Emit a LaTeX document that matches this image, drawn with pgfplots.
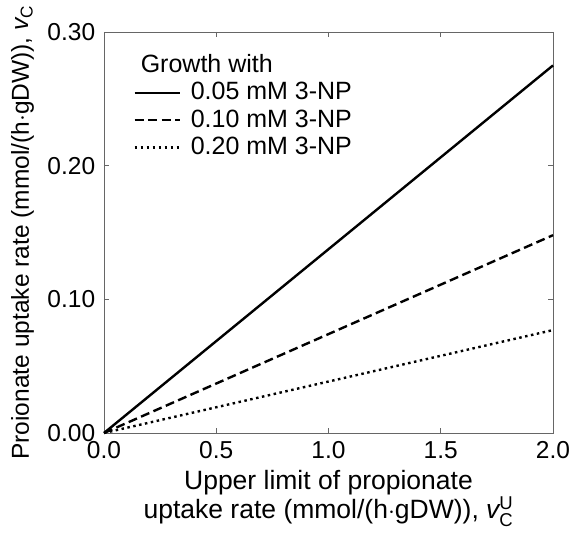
\documentclass[border=0pt]{standalone}
\usepackage{amsmath}
\usepackage{pgfplots}
\pgfplotsset{compat=1.18}
\usepackage{fontspec}
\setmainfont{Liberation Sans}
\begin{document}
\fontsize{26}{30}\selectfont
\begin{tikzpicture}
\useasboundingbox (-104pt,-100pt) rectangle (470pt,433pt);
\begin{axis}[
  at={(0pt,0pt)}, anchor=south west,
  scale only axis, width=449pt, height=401pt,
  xmin=0, xmax=2, ymin=0, ymax=0.3,
  xtick={0,0.5,1,1.5,2}, ytick={0,0.1,0.2,0.3},
  tick align=inside, tick pos=both,
  major tick length=5pt,
  axis line style={gray!80!black, line width=0.8pt},
  tick style={gray!80!black, line width=0.8pt},
  /pgf/number format/assume math mode=true,
  xticklabel style={/pgf/number format/.cd, fixed, fixed zerofill, precision=1},
  yticklabel style={/pgf/number format/.cd, fixed, fixed zerofill, precision=2},
  ticklabel style={font=\fontsize{24.5}{28}\selectfont},
  xlabel={Upper limit of propionate\\uptake rate (mmol/(h$\cdot$gDW)), $\textit{v}^{\text{U}}_{\text{C}}$},
  xlabel style={align=center, yshift=6pt, font=\fontsize{26.5}{23}\selectfont},
  ylabel={Proionate uptake rate (mmol/(h$\cdot$gDW)), $\textit{v}_{\text{C}}$},
  ylabel style={yshift=-4pt, font=\fontsize{24.5}{28}\selectfont},
  legend style={at={(0.065,0.955)}, anchor=north west, draw=none, fill=none,
    font=\fontsize{25}{28}\selectfont, row sep=2pt, cells={anchor=west},
    inner xsep=0pt},
  legend image code/.code={\draw[#1] (-8pt,0pt) -- (37pt,0pt);},
  clip=false,
]
\addlegendimage{empty legend}
\addlegendentry{\hspace{-42pt}Growth with}
\addplot[black, line width=2.4pt] coordinates {(0,0) (2,0.275)};
\addlegendentry{\hspace{8pt}0.05 mM 3-NP}
\addplot[black, line width=2.4pt, dash pattern=on 9pt off 4.5pt] coordinates {(0,0) (2,0.148)};
\addlegendentry{\hspace{8pt}0.10 mM 3-NP}
\addplot[black, line width=2.4pt, dash pattern=on 2.5pt off 3.5pt] coordinates {(0,0) (2,0.077)};
\addlegendentry{\hspace{8pt}0.20 mM 3-NP}
\end{axis}
\end{tikzpicture}
\end{document}
